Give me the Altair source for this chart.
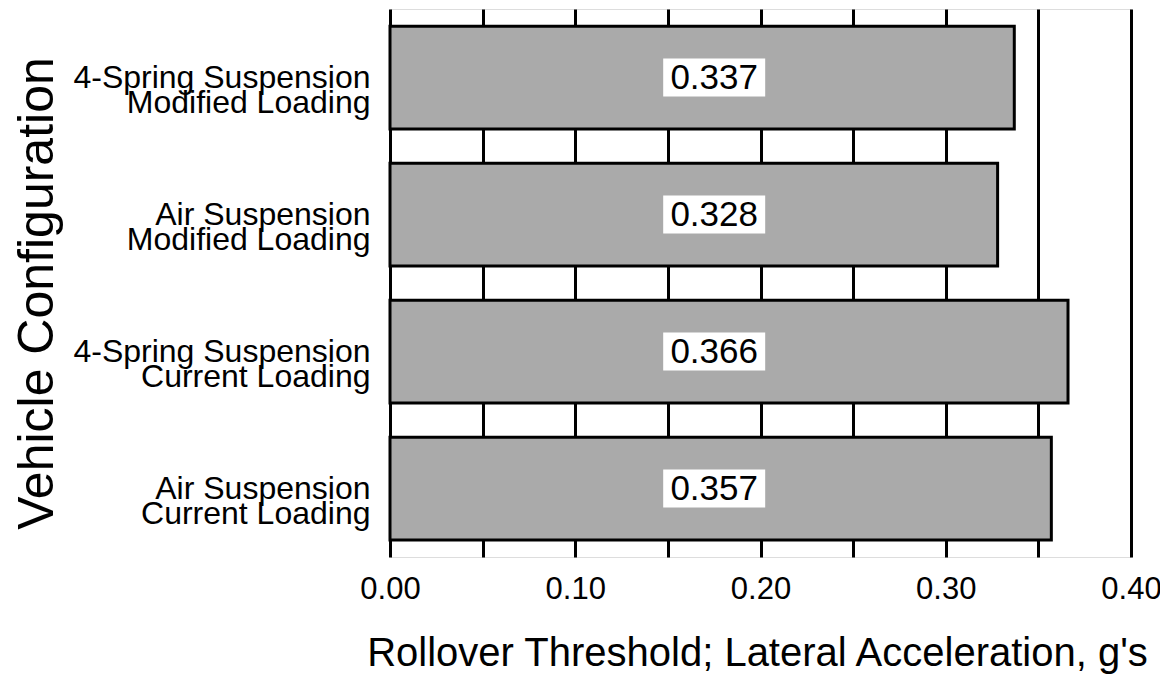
import altair as alt
import pandas as pd

categories = [
    "4-Spring Suspension|Modified Loading",
    "Air Suspension|Modified Loading",
    "4-Spring Suspension|Current Loading",
    "Air Suspension|Current Loading",
]
values = [0.337, 0.328, 0.366, 0.357]
value_labels = ["0.337", "0.328", "0.366", "0.357"]
x_ticks = [0.0, 0.05, 0.10, 0.15, 0.20, 0.25, 0.30, 0.35, 0.40]
label_pos = 0.175

df = pd.DataFrame({"config": categories, "value": values, "label": value_labels})

FONT = "Liberation Sans"

y_enc = alt.Y(
    "config:N",
    sort=categories,
    scale=alt.Scale(paddingInner=0.25, paddingOuter=0.125),
    axis=alt.Axis(
        title="Vehicle Configuration",
        labelExpr="split(datum.label, '|')",
        labelFontSize=32,
        labelLineHeight=25,
        labelPadding=20,
        labelLimit=0,
        labelColor="black",
        labelFont=FONT,
        ticks=False,
        domain=False,
        grid=False,
        titleFontSize=50,
        titleFont=FONT,
        titleFontWeight="normal",
        titleColor="black",
        titleX=-338,
        titleY=284,
        titleBaseline="alphabetic",
    ),
)

x_enc = alt.X(
    "value:Q",
    scale=alt.Scale(domain=[0, 0.4], nice=False, zero=True),
    axis=alt.Axis(
        values=x_ticks,
        labelExpr="round(datum.value*20) % 2 == 0 ? format(datum.value, '.2f') : ''",
        labelOverlap=False,
        labelFlush=False,
        grid=True,
        gridColor="black",
        gridWidth=3,
        gridOpacity=1,
        ticks=False,
        domain=False,
        labelFontSize=31,
        labelPadding=17,
        labelColor="black",
        labelFont=FONT,
        title="Rollover Threshold; Lateral Acceleration, g's",
        titleFontSize=40,
        titleFont=FONT,
        titleFontWeight="normal",
        titleColor="black",
        titleX=367,
        titleY=108,
        titleBaseline="alphabetic",
    ),
)

bars = alt.Chart(df).mark_bar(fill="#aaaaaa", stroke="black", strokeWidth=3).encode(
    x=x_enc, y=y_enc
)

boxes = alt.Chart(df).mark_point(
    shape="M-1,-0.373L1,-0.373L1,0.373L-1,0.373Z",
    size=102 * 102,
    filled=True,
    fill="white",
    opacity=1,
    strokeWidth=0,
).encode(x=alt.datum(label_pos), y=alt.Y("config:N", sort=categories))

texts = alt.Chart(df).mark_text(
    fontSize=35, font=FONT, color="black", baseline="middle", align="center"
).encode(x=alt.datum(label_pos), y=alt.Y("config:N", sort=categories), text="label:N")

chart = (
    alt.layer(bars, boxes, texts)
    .properties(
        width=741,
        height=548,
        autosize=alt.AutoSizeParams(type="none"),
        padding={"left": 382, "top": 1, "right": 29, "bottom": 117},
    )
    .configure_view(stroke="black", strokeWidth=3)
    .configure(font=FONT, background="white")
)

chart.save("out.html", embed_options={"renderer": "svg", "actions": False})
